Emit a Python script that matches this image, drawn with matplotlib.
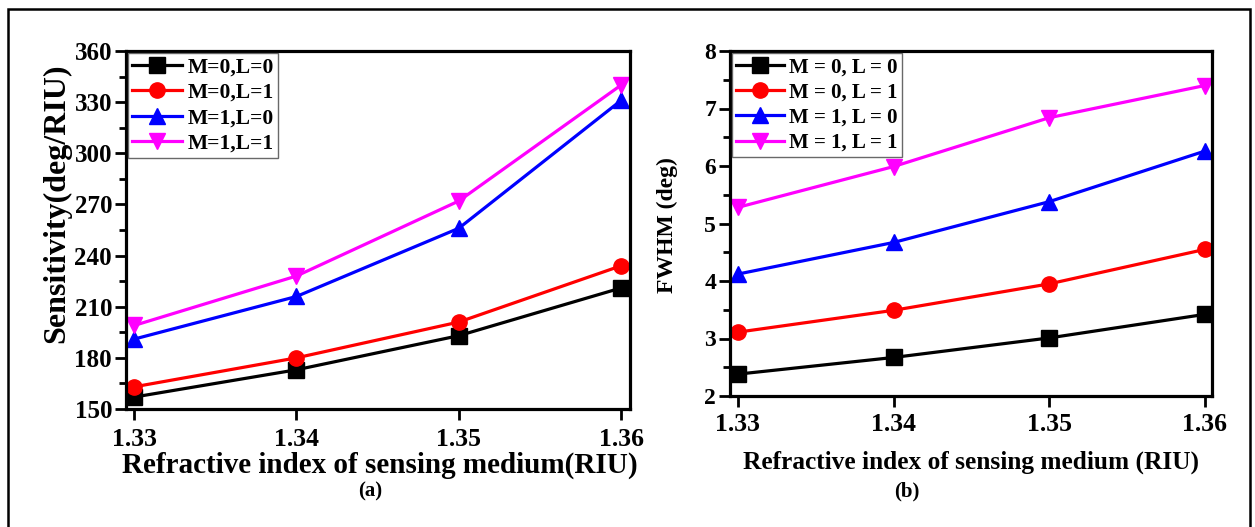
import matplotlib
matplotlib.use("Agg")
import matplotlib.pyplot as plt
from matplotlib.patches import Rectangle
from matplotlib.ticker import MultipleLocator, AutoMinorLocator

plt.rcParams['font.family'] = ['Liberation Serif', 'DejaVu Serif']
plt.rcParams['font.weight'] = 'bold'

ri = [1.33, 1.34, 1.35, 1.36]

# (a) sensitivity, deg/RIU
sens_m0l0 = [157, 173, 193, 221]
sens_m0l1 = [163, 180, 201, 234]
sens_m1l0 = [191, 216, 256, 331]
sens_m1l1 = [199, 228, 272, 340]

# (b) FWHM, deg
fwhm_m0l0 = [2.38, 2.67, 3.01, 3.42]
fwhm_m0l1 = [3.11, 3.49, 3.95, 4.55]
fwhm_m1l0 = [4.12, 4.67, 5.38, 6.26]
fwhm_m1l1 = [5.28, 5.99, 6.84, 7.40]

labels_a = ['M=0,L=0', 'M=0,L=1', 'M=1,L=0', 'M=1,L=1']
labels_b = ['M = 0, L = 0', 'M = 0, L = 1', 'M = 1, L = 0', 'M = 1, L = 1']
colors = ['black', 'red', 'blue', 'magenta']
markers = ['s', 'o', '^', 'v']

fig = plt.figure(figsize=(12.55, 5.27), dpi=100)

W, H = 1255, 527
ax1 = fig.add_axes([126 / W, (H - 409) / H, 504 / W, 358 / H])
ax2 = fig.add_axes([730 / W, (H - 396) / H, 482 / W, 345 / H])


def style(ax, xfs, yfs, xpad):
    for s in ax.spines.values():
        s.set_linewidth(2.3)
    ax.tick_params(axis='both', which='major', direction='out', length=8, width=2,
                   top=False, right=False)
    ax.tick_params(axis='x', labelsize=xfs, pad=xpad)
    ax.tick_params(axis='y', labelsize=yfs, pad=2)
    ax.tick_params(axis='y', which='minor', direction='out', length=5, width=2)
    ax.tick_params(axis='x', which='minor', bottom=False)
    ax.set_xticks(ri)
    ax.set_xticklabels(['1.33', '1.34', '1.35', '1.36'])


leg_kw = dict(loc='upper left', frameon=True, fancybox=False, edgecolor='#444444',
              handlelength=2.3, handletextpad=0.25, labelspacing=0.25,
              borderpad=0.2, borderaxespad=0.1)

series_a = [sens_m0l0, sens_m0l1, sens_m1l0, sens_m1l1]
for y, c, m, lab in zip(series_a, colors, markers, labels_a):
    ax1.plot(ri, y, color=c, marker=m, markersize=11, linewidth=2.3, label=lab)
ax1.set_xlim(1.3295, 1.36055)
ax1.set_ylim(150, 360)
ax1.yaxis.set_major_locator(MultipleLocator(30))
ax1.yaxis.set_minor_locator(AutoMinorLocator(2))
style(ax1, 18.5, 18, 6)
ax1.set_ylabel('Sensitivity(deg/RIU)', fontsize=23, fontweight='bold',
               va='center', ha='center')
ax1.yaxis.set_label_coords(-0.138, 0.575)
ax1.set_xlabel('Refractive index of sensing medium(RIU)', fontsize=21,
               fontweight='bold', va='center', ha='center')
ax1.xaxis.set_label_coords(0.504, -0.156)
ax1.legend(prop={'weight': 'bold', 'size': 15.5}, **leg_kw)

series_b = [fwhm_m0l0, fwhm_m0l1, fwhm_m1l0, fwhm_m1l1]
for y, c, m, lab in zip(series_b, colors, markers, labels_b):
    ax2.plot(ri, y, color=c, marker=m, markersize=11, linewidth=2.3, label=lab)
ax2.set_xlim(1.3295, 1.36045)
ax2.set_ylim(2, 8)
ax2.yaxis.set_major_locator(MultipleLocator(1))
ax2.yaxis.set_minor_locator(AutoMinorLocator(2))
style(ax2, 18.5, 17, 4)
ax2.set_ylabel('FWHM (deg)', fontsize=17, fontweight='bold',
               va='center', ha='center')
ax2.yaxis.set_label_coords(-0.129, 0.496)
ax2.set_xlabel('Refractive index of sensing medium (RIU)', fontsize=18.3,
               fontweight='bold', va='center', ha='center')
ax2.xaxis.set_label_coords(0.5, -0.191)
ax2.legend(prop={'weight': 'bold', 'size': 15}, **leg_kw)

fig.text(370 / W, 1 - 491 / H, '(a)', ha='center', va='center', fontsize=15,
         fontweight='bold')
fig.text(907 / W, 1 - 491 / H, '(b)', ha='center', va='center', fontsize=15,
         fontweight='bold')

fig.patches.append(Rectangle((8 / W, -0.2), 1242 / W, 1.2 - 9 / H,
                             transform=fig.transFigure, fill=False,
                             edgecolor='black', linewidth=1.8))

fig.savefig('out.png', dpi=100)
